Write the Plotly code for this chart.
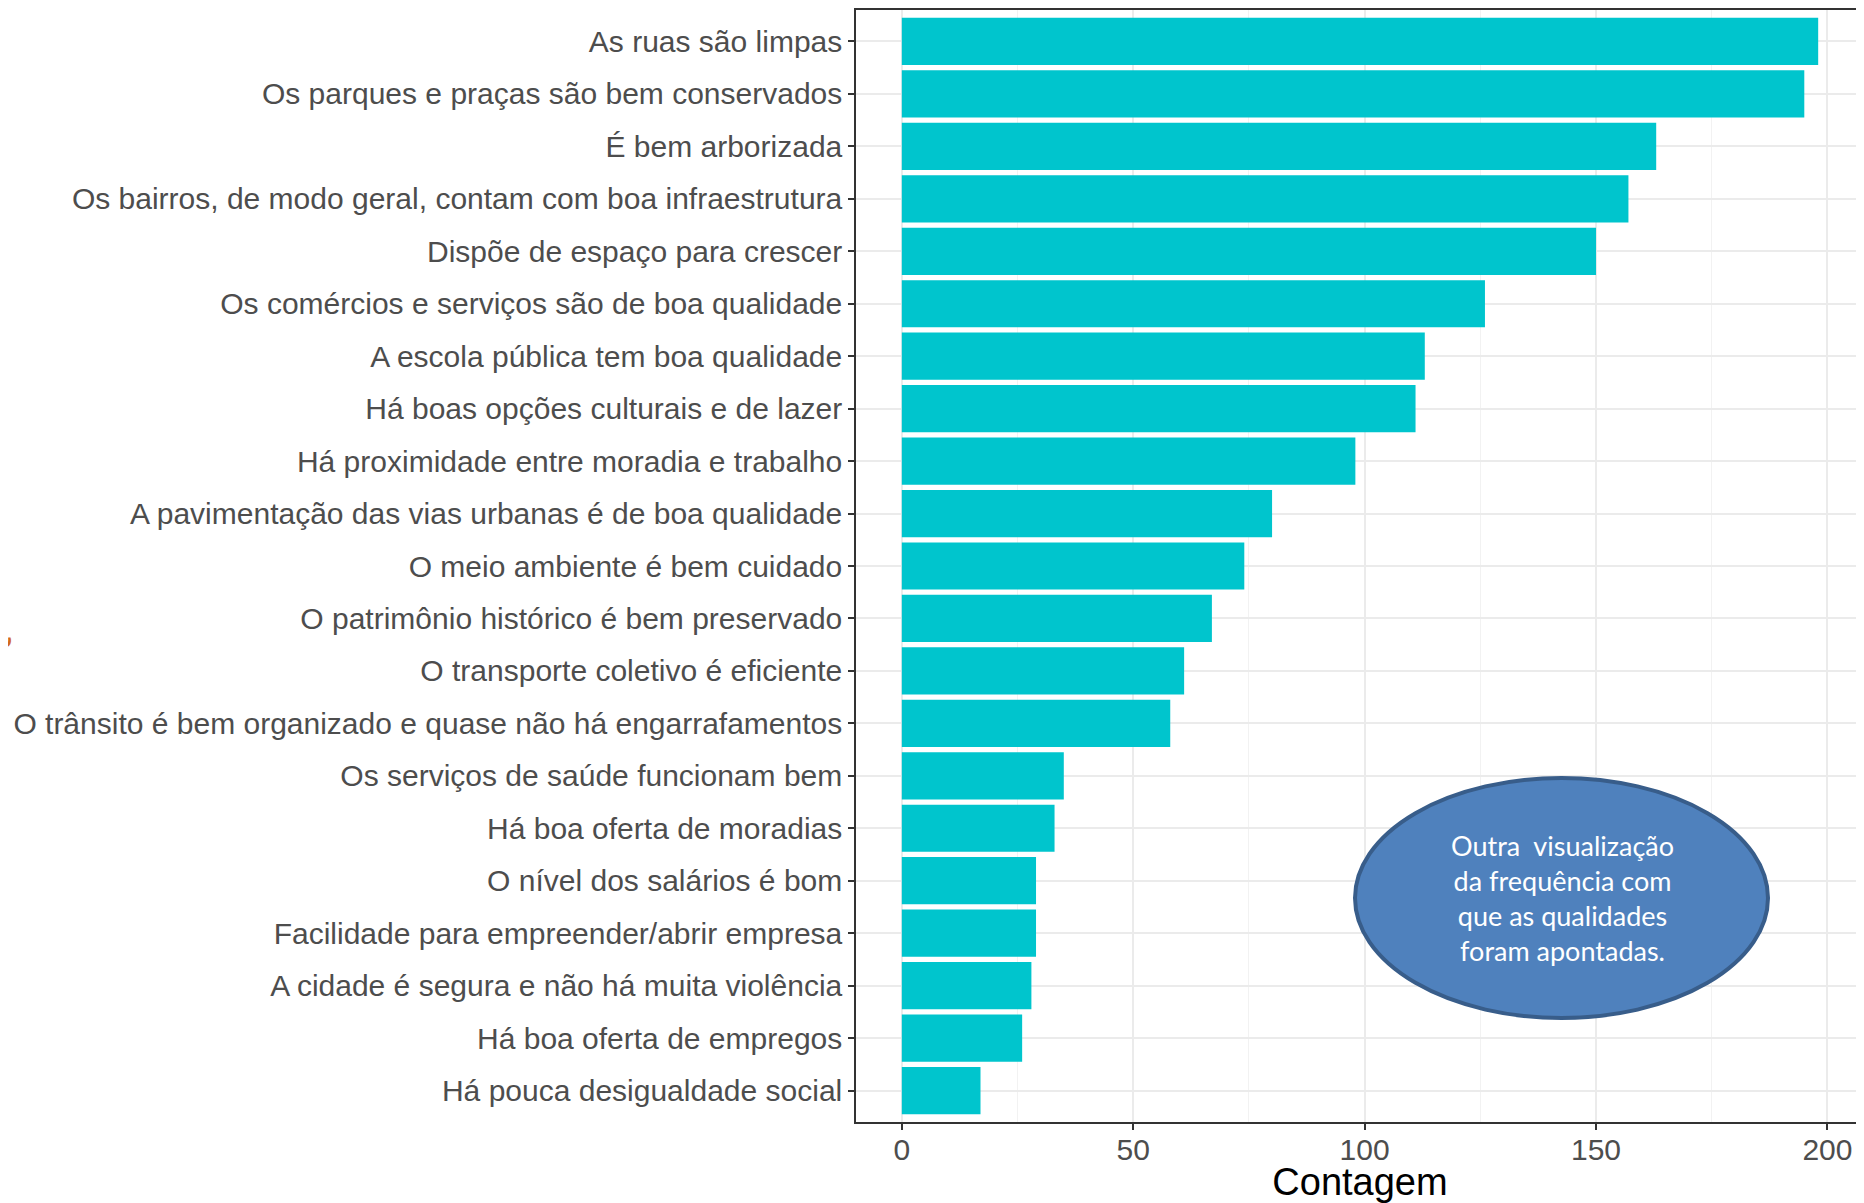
import plotly.graph_objects as go

categories = [
    "As ruas são limpas",
    "Os parques e praças são bem conservados",
    "É bem arborizada",
    "Os bairros, de modo geral, contam com boa infraestrutura",
    "Dispõe de espaço para crescer",
    "Os comércios e serviços são de boa qualidade",
    "A escola pública tem boa qualidade",
    "Há boas opções culturais e de lazer",
    "Há proximidade entre moradia e trabalho",
    "A pavimentação das vias urbanas é de boa qualidade",
    "O meio ambiente é bem cuidado",
    "O patrimônio histórico é bem preservado",
    "O transporte coletivo é eficiente",
    "O trânsito é bem organizado e quase não há engarrafamentos",
    "Os serviços de saúde funcionam bem",
    "Há boa oferta de moradias",
    "O nível dos salários é bom",
    "Facilidade para empreender/abrir empresa",
    "A cidade é segura e não há muita violência",
    "Há boa oferta de empregos",
    "Há pouca desigualdade social",
]
counts = [198, 195, 163, 157, 150, 126, 113, 111, 98, 80, 74, 67, 61, 58, 35, 33, 29, 29, 28, 26, 17]
x_ticks = [0, 50, 100, 150, 200]

# page has an 8px body margin; figure sized to fit the 1864x1203 window
OFF = 8
W, H = 1864 - OFF, 1203 - OFF
L, R, T, B = 856 - OFF, 0, 10 - OFF, H - (1122 - OFF)

fig = go.Figure()
fig.add_trace(go.Bar(
    x=counts, y=categories, orientation="h",
    marker=dict(color="#00C5CD", line=dict(width=0)),
    width=0.9,
))

n = len(categories)
fig.update_layout(
    width=W, height=H,
    margin=dict(l=L, r=R, t=T, b=B, pad=0, autoexpand=False),
    paper_bgcolor="white", plot_bgcolor="white",
    font=dict(family="Liberation Sans, Arial, sans-serif", color="#4D4D4D"),
    showlegend=False,
    bargap=0.1,
)
fig.update_xaxes(
    range=[-9.9, 207.9],
    tickvals=x_ticks,
    ticks="outside", ticklen=6, tickwidth=1.5, tickcolor="#333333",
    tickfont=dict(size=30, color="#4D4D4D"),
    ticklabelstandoff=-6,
    showgrid=True, gridcolor="#EBEBEB", gridwidth=1.5,
    minor=dict(tickvals=[25, 75, 125, 175], showgrid=True, gridcolor="#F2F2F2", gridwidth=1, ticks=""),
    showline=True, linecolor="#333333", linewidth=1.5, mirror=True,
    zeroline=False, automargin=False,
    title=dict(text="Contagem", font=dict(size=38, color="black"), standoff=15),
)
fig.update_yaxes(
    categoryorder="array", categoryarray=categories,
    range=[n - 0.4, -0.6],
    ticks="outside", ticklen=6, tickwidth=1.5, tickcolor="#333333",
    tickfont=dict(size=30, color="#4D4D4D"),
    showgrid=True, gridcolor="#EBEBEB", gridwidth=1.5,
    showline=True, linecolor="#333333", linewidth=1.5, mirror=True,
    zeroline=False, automargin=False,
)

# ellipse callout (page pixel positions converted to paper)
pw, ph = W - L - R, H - T - B
def px(xp):
    return (xp - OFF - L) / pw
def py(yp):
    return (H - B - (yp - OFF)) / ph

fig.add_shape(
    type="circle", xref="paper", yref="paper",
    x0=px(1355), x1=px(1768), y0=py(1018), y1=py(778),
    fillcolor="#4F81BD", line=dict(color="#385D8A", width=4), layer="above",
)
fig.add_annotation(
    text="Outra  visualização<br>da frequência com<br>que as qualidades<br>foram apontadas.",
    xref="paper", yref="paper", x=px(1562), y=py(898),
    xanchor="center", yanchor="middle", showarrow=False, align="center",
    font=dict(family="Lato, Open Sans, sans-serif", size=27, color="white"),
)

# y-axis title, cropped at the left edge in the reference
fig.add_annotation(
    text="Qualidades", textangle=-90,
    xref="paper", yref="paper", x=0, y=0.5,
    xanchor="right", yanchor="middle", xshift=-(L - 6),
    showarrow=False, font=dict(size=38, color="#D2691E"),
)

fig.write_html("out.html")
